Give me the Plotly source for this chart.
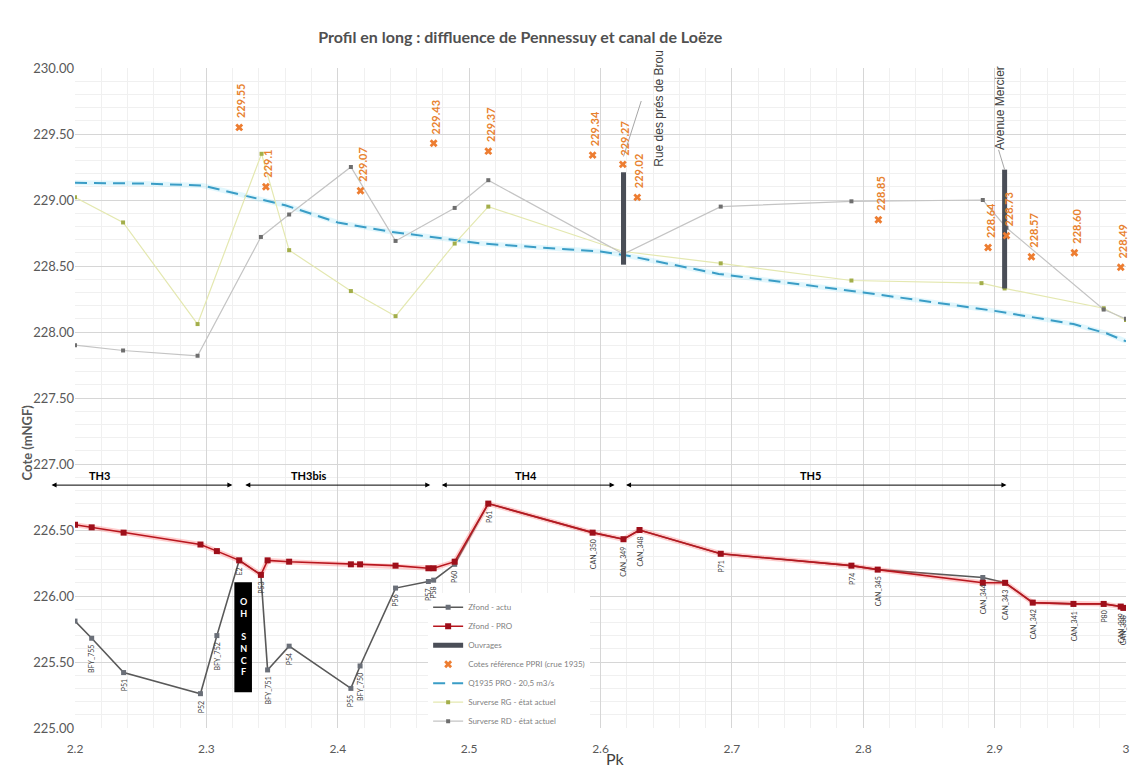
import plotly.graph_objects as go

# --- Fond du lit (profil en long) ---
pk_fond = [2.2, 2.2127, 2.237, 2.2955, 2.308, 2.325, 2.3415, 2.3466, 2.363, 2.41, 2.417,
           2.444, 2.469, 2.473, 2.489, 2.5146, 2.594, 2.6175, 2.6297, 2.6915, 2.791, 2.811,
           2.891, 2.908, 2.929, 2.96, 2.983, 2.996, 2.998]
z_actu = [225.81, 225.68, 225.42, 225.26, 225.70, 226.27, 226.16, 225.44, 225.62, 225.30, 225.47,
          226.06, 226.11, 226.12, 226.24, 226.70, 226.48, 226.43, 226.50, 226.32, 226.23, 226.20,
          226.14, 226.10, 225.95, 225.94, 225.94, 225.92, 225.91]
z_pro = [226.54, 226.52, 226.48, 226.39, 226.34, 226.27, 226.16, 226.27, 226.26, 226.24, 226.24,
         226.23, 226.21, 226.21, 226.26, 226.70, 226.48, 226.43, 226.50, 226.32, 226.23, 226.20,
         226.10, 226.10, 225.95, 225.94, 225.94, 225.92, 225.91]
profils = ["", "BFY_755", "P51", "P52", "BFY_752", "E2", "P53", "BFY_751", "P54", "P55", "BFY_750",
           "P56", "P57", "P58", "P60", "P61", "CAN_350", "CAN_349", "CAN_348", "P71", "P74", "CAN_345",
           "CAN_344", "CAN_343", "CAN_342", "CAN_341", "P80", "CAN_339", "CAN_338"]

# --- Ouvrages ---
pk_ouvr = [2.6175, 2.9076]
z_ouvr_bas = [228.51, 228.33]
z_ouvr_haut = [229.21, 229.23]
nom_ouvr = ["Rue des prés de Brou", "Avenue Mercier"]

# --- Cotes de référence PPRI (crue 1935) ---
pk_ppri = [2.325, 2.3453, 2.4173, 2.473, 2.5146, 2.594, 2.617, 2.628, 2.8115, 2.895, 2.909,
           2.928, 2.9607, 2.996]
z_ppri = [229.55, 229.10, 229.07, 229.43, 229.37, 229.34, 229.27, 229.02, 228.85, 228.64, 228.73,
          228.57, 228.60, 228.49]
lbl_ppri = ["229.55", "229.1", "229.07", "229.43", "229.37", "229.34", "229.27", "229.02", "228.85",
            "228.64", "228.73", "228.57", "228.60", "228.49"]

# --- Ligne d'eau Q1935 projet ---
pk_q = [2.2, 2.25, 2.297, 2.318, 2.36, 2.40, 2.44, 2.51, 2.60, 2.62, 2.69, 2.80, 2.90, 2.96, 2.985, 3.0]
z_q = [229.13, 229.125, 229.11, 229.06, 228.96, 228.83, 228.76, 228.67, 228.61, 228.58, 228.44,
       228.30, 228.16, 228.06, 227.99, 227.93]

# --- Surverses (état actuel) ---
pk_rg = [2.2, 2.2366, 2.2933, 2.342, 2.363, 2.41, 2.444, 2.489, 2.5146, 2.6175, 2.6915, 2.791,
         2.89, 2.9076, 2.983, 3.0]
z_rg = [229.02, 228.83, 228.06, 229.35, 228.62, 228.31, 228.12, 228.67, 228.95, 228.61, 228.52,
        228.39, 228.37, 228.33, 228.18, 228.09]
pk_rd = [2.2, 2.2366, 2.2933, 2.3415, 2.363, 2.41, 2.444, 2.489, 2.5146, 2.6175, 2.6915, 2.791,
         2.891, 2.909, 2.983, 3.0]
z_rd = [227.90, 227.86, 227.82, 228.72, 228.89, 229.25, 228.69, 228.94, 229.15, 228.59, 228.95,
        228.99, 229.00, 228.79, 228.17, 228.10]

# --- Tronçons homogènes ---
th_noms = ["TH3", "TH3bis", "TH4", "TH5"]
th_debut = [2.181, 2.3285, 2.478, 2.6183]
th_fin = [2.3198, 2.4704, 2.6107, 2.909]
th_label_pk = [2.219, 2.378, 2.5435, 2.7595]
z_th = 226.84
z_th_label = 226.91

FONT = "Lato, 'Open Sans', sans-serif"
GREY = "#595959"

fig = go.Figure()

# Q1935 (halo + ligne)
fig.add_trace(go.Scatter(x=pk_q, y=z_q, mode="lines", showlegend=False, hoverinfo="skip",
                         line=dict(color="rgba(140,225,248,0.25)", width=5)))
fig.add_trace(go.Scatter(x=pk_q, y=z_q, mode="lines", name="Q1935 PRO - 20,5 m3/s", legendrank=5,
                         line=dict(color="#3A9DC6", width=2, dash="12px,7px")))

# Surverses
fig.add_trace(go.Scatter(x=pk_rg, y=z_rg, mode="lines+markers", name="Surverse RG - état actuel",
                         legendrank=6, line=dict(color="#E4E8B0", width=1.2),
                         marker=dict(symbol="square", size=4, color="#A3AE4A")))
fig.add_trace(go.Scatter(x=pk_rd, y=z_rd, mode="lines+markers", name="Surverse RD - état actuel",
                         legendrank=7, line=dict(color="#C4C4C4", width=1.2),
                         marker=dict(symbol="square", size=4, color="#6E6E6E")))

# Zfond actuel
fig.add_trace(go.Scatter(x=pk_fond, y=z_actu, mode="lines+markers", name="Zfond - actu", legendrank=1,
                         line=dict(color="#595959", width=1.6),
                         marker=dict(symbol="square", size=5, color="#6A6F78")))

# Zfond projet (halo + ligne)
fig.add_trace(go.Scatter(x=pk_fond, y=z_pro, mode="lines", showlegend=False, hoverinfo="skip",
                         line=dict(color="rgba(255,80,80,0.28)", width=5)))
fig.add_trace(go.Scatter(x=pk_fond, y=z_pro, mode="lines+markers", name="Zfond - PRO", legendrank=2,
                         line=dict(color="#B8161E", width=1.6),
                         marker=dict(symbol="square", size=6, color="#9E0F1A")))

# Ouvrages (traits verticaux)
ox, oy = [], []
for p, b, h in zip(pk_ouvr, z_ouvr_bas, z_ouvr_haut):
    ox += [p, p, None]
    oy += [b, h, None]
fig.add_trace(go.Scatter(x=ox, y=oy, mode="lines", name="Ouvrages", legendrank=3,
                         line=dict(color="#4A4E57", width=5)))

# Cotes PPRI
fig.add_trace(go.Scatter(x=pk_ppri, y=z_ppri, mode="markers", name="Cotes référence PPRI (crue 1935)",
                         legendrank=4, marker=dict(symbol="x", size=7, color="#ED7D31")))

annotations = []

# étiquettes PPRI verticales
for p, z, t in zip(pk_ppri, z_ppri, lbl_ppri):
    annotations.append(dict(x=p, y=z, text="<b>" + t + "</b>", showarrow=False, textangle=-90,
                            xanchor="center", yanchor="bottom", yshift=7, xshift=2,
                            font=dict(family=FONT, size=11, color="#E8822F")))

# étiquettes des profils
for p, z, t in zip(pk_fond, z_actu, profils):
    if t:
        annotations.append(dict(x=p, y=z, text=t, showarrow=False, textangle=-90,
                                xanchor="center", yanchor="top", yshift=-5,
                                font=dict(family=FONT, size=7, color="#404040")))

# noms des ouvrages
annotations.append(dict(x=2.6445, y=229.24, text=nom_ouvr[0], showarrow=False, textangle=-90,
                        xanchor="center", yanchor="bottom",
                        font=dict(family="Liberation Sans, sans-serif", size=12, color="#404040")))
annotations.append(dict(x=2.9045, y=229.36, text=nom_ouvr[1], showarrow=False, textangle=-90,
                        xanchor="center", yanchor="bottom",
                        font=dict(family="Liberation Sans, sans-serif", size=12, color="#404040")))

# tronçons
for n, a, b, lp in zip(th_noms, th_debut, th_fin, th_label_pk):
    annotations.append(dict(x=b, y=z_th, ax=a, ay=z_th, axref="x", ayref="y", text="",
                            showarrow=True, arrowside="end+start", arrowhead=2, startarrowhead=2,
                            arrowsize=1, startarrowsize=1, arrowwidth=1, arrowcolor="#000000"))
    annotations.append(dict(x=lp, y=z_th_label, text="<b>" + n + "</b>", showarrow=False,
                            font=dict(family=FONT, size=11, color="#000000")))

# OH SNCF
annotations.append(dict(x=(2.3213 + 2.3347) / 2, y=225.69, text="<b>O<br>H<br><br>S<br>N<br>C<br>F</b>",
                        showarrow=False, font=dict(family=FONT, size=9, color="white")))

# titres d'axes
annotations.append(dict(xref="paper", yref="paper", x=0.503, y=-0.029, text="Pk", showarrow=False,
                        xanchor="left", yanchor="top",
                        font=dict(family=FONT, size=16, color="#404040")))
annotations.append(dict(xref="paper", yref="paper", x=-0.055, y=0.433, text="<b>Cote (mNGF)</b>",
                        showarrow=False, textangle=-90,
                        font=dict(family=FONT, size=13, color=GREY)))

shapes = [
    dict(type="rect", x0=2.3213, x1=2.3347, y0=225.27, y1=226.105, fillcolor="#000000",
         line=dict(width=0), layer="above"),
    dict(type="line", x0=2.6175, y0=229.33, x1=2.631, y1=229.75, line=dict(color="#A6A6A6", width=1)),
    dict(type="line", x0=2.9076, y0=229.23, x1=2.903, y1=229.38, line=dict(color="#A6A6A6", width=1)),
]

fig.update_layout(
    width=1141, height=767,
    margin=dict(l=75, r=11, t=68, b=34),
    paper_bgcolor="white", plot_bgcolor="white",
    title=dict(text="<b>Profil en long : diffluence de Pennessuy et canal de Loëze</b>",
               x=0.456, xanchor="center", y=0.951, yanchor="middle",
               font=dict(family=FONT, size=16, color="#505050")),
    font=dict(family=FONT, color=GREY),
    xaxis=dict(range=[2.2, 3.0], tick0=2.2, dtick=0.1, showgrid=True, gridcolor="#D6D6D6",
               zeroline=False, showline=False, ticks="", ticklabelstandoff=12,
               tickfont=dict(family="'Liberation Sans Narrow', " + FONT, size=12, color=GREY),
               minor=dict(tick0=2.2, dtick=0.02, showgrid=True, gridcolor="#F0F0F0")),
    yaxis=dict(range=[225, 230], tick0=225, dtick=0.5, tickformat=".2f", showgrid=True,
               gridcolor="#D6D6D6", zeroline=False, showline=False, ticks="",
               tickfont=dict(family=FONT, size=13, color=GREY),
               minor=dict(tick0=225, dtick=0.1, showgrid=True, gridcolor="#F0F0F0")),
    legend=dict(x=0.336, y=0.205, xanchor="left", yanchor="top", bgcolor="white",
                font=dict(family=FONT, size=8, color="#7F7F7F"), tracegroupgap=0,
                itemwidth=30),
    annotations=annotations,
    shapes=shapes,
)

fig.write_html("out.html")
